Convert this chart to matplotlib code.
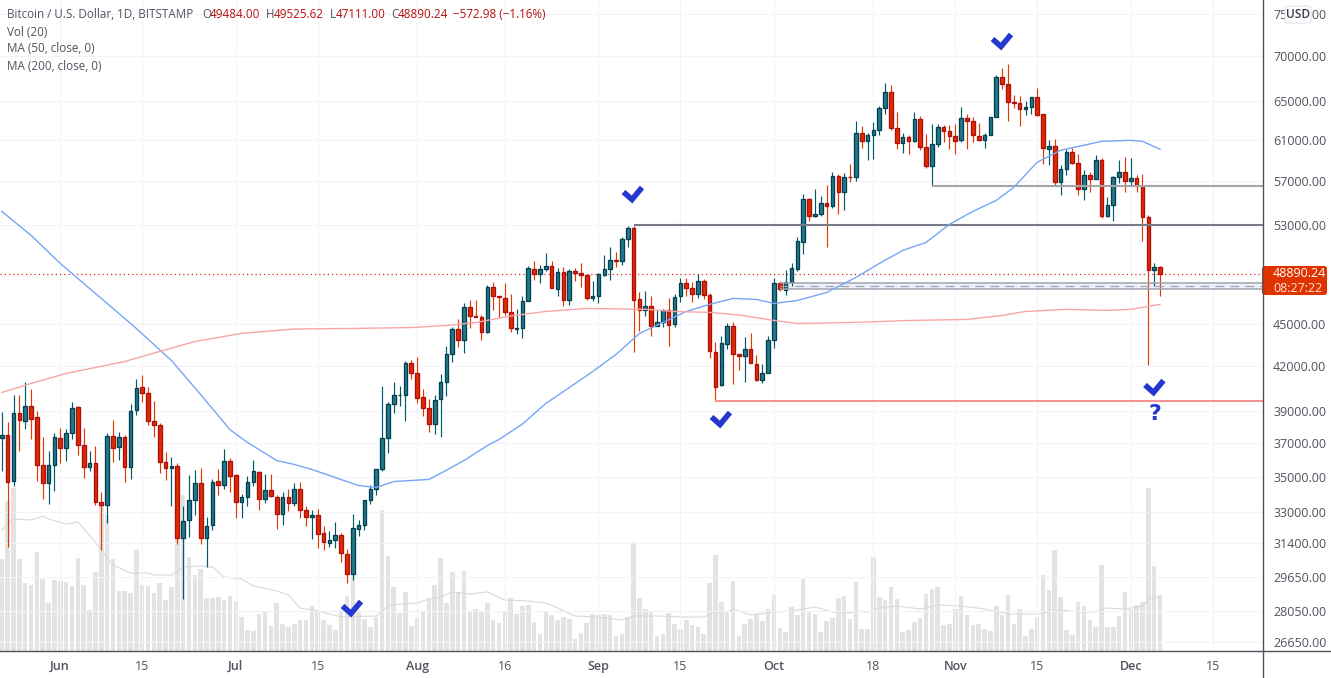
import numpy as np
import matplotlib
matplotlib.use('Agg')
import matplotlib.pyplot as plt
from matplotlib.patches import FancyBboxPatch, Rectangle

plt.rcParams['font.family'] = ['Open Sans', 'DejaVu Sans']

opens = [37290, 37500, 34740, 38880, 38350, 39330, 38620, 35690, 34630, 35670,
         37310, 36680, 37610, 39270, 36890, 35550, 35810, 33580, 33390, 37430,
         36740, 37370, 35550, 39080, 40590, 40190, 38370, 38120, 35860, 35490,
         35630, 31620, 32580, 33690, 34650, 31620, 32330, 34760, 34530, 35920,
         35110, 33550, 33860, 34710, 35280, 33740, 34250, 33860, 32900, 33860,
         33500, 34300, 33140, 32740, 32870, 31910, 31360, 31520, 31800, 30820,
         29800, 32120, 32330, 33690, 34300, 35460, 37310, 39460, 40030, 40060,
         42220, 41530, 39900, 39200, 38150, 39770, 40920, 42830, 44650, 43820,
         46310, 45630, 45550, 44410, 47860, 47150, 47000, 45930, 44650, 44700,
         46770, 49310, 48900, 49310, 49550, 47710, 49060, 46840, 49140, 48980,
         48820, 46970, 47120, 48820, 49310, 50040, 49960, 51810, 52760, 46920,
         46050, 46380, 44880, 45140, 46080, 45030, 47150, 48180, 47780, 47280,
         48340, 47230, 43000, 40690, 43540, 44880, 42860, 42690, 43210, 42150,
         41030, 41500, 43850, 48180, 47590, 48200, 49250, 51550, 55340, 53770,
         53980, 54970, 54660, 57470, 55940, 57380, 57380, 61700, 60890, 61500,
         62000, 64300, 66020, 62210, 60690, 61300, 60890, 63150, 60290, 58430,
         60590, 62310, 61900, 61400, 60990, 63250, 62940, 61380, 60970, 61500,
         63350, 67570, 66890, 64940, 64830, 64150, 64410, 65480, 63660, 60100,
         60390, 56910, 58140, 59800, 58690, 56260, 57560, 57190, 59020, 53770,
         54790, 57380, 57850, 57000, 57290, 56530, 53730, 49190, 49484]
highs = [38920, 38330, 40010, 40010, 40940, 40470, 38970, 37390, 36540, 37580,
         37950, 37890, 39550, 39290, 37950, 36540, 36840, 34100, 37580, 38450,
         37700, 37460, 39420, 41080, 41350, 40540, 39620, 38260, 36480, 36180,
         35820, 33370, 35070, 35360, 35530, 32770, 34840, 35420, 36660, 36120,
         35130, 34040, 35010, 36000, 35300, 35130, 35130, 33980, 34150, 34320,
         34660, 34720, 33370, 33150, 33210, 32290, 31980, 32500, 31920, 31090,
         32930, 32610, 33700, 34550, 35470, 40610, 39550, 40940, 40670, 42380,
         42450, 42660, 40470, 39810, 40010, 41420, 43440, 44820, 45420, 46560,
         46790, 46790, 45720, 47960, 48200, 47170, 48120, 47260, 46110, 47170,
         49500, 49900, 49570, 50560, 49900, 49330, 49410, 49250, 49330, 49740,
         48830, 48280, 48930, 50390, 51060, 50640, 51950, 52870, 52870, 47410,
         47490, 47100, 46030, 46100, 46950, 47320, 48520, 48520, 48200, 48840,
         48440, 47340, 43660, 44110, 45050, 45170, 42870, 44040, 44380, 42800,
         42150, 44160, 48520, 48300, 49230, 49740, 51920, 55790, 55360, 56190,
         55550, 56560, 57850, 57660, 57760, 58560, 62940, 62340, 61700, 62760,
         64510, 66990, 66710, 63800, 61700, 61500, 63800, 63380, 61520, 62550,
         62550, 62450, 62450, 62550, 64330, 63600, 63280, 62660, 61630, 63350,
         67820, 68630, 69080, 65650, 65570, 64980, 65480, 66380, 63670, 60920,
         61020, 58470, 60030, 60130, 59540, 57980, 57790, 59440, 59210, 55460,
         57470, 58950, 59240, 59150, 57500, 57660, 53910, 49810, 49525.62]
lows = [35300, 31160, 34490, 36540, 37890, 37270, 34740, 33710, 33480, 34210,
        35770, 35940, 37210, 36300, 34900, 35300, 33390, 31040, 32450, 35880,
        36000, 34670, 34840, 38770, 39550, 38140, 37390, 35190, 34780, 33370,
        31300, 28630, 31710, 32880, 31300, 30150, 32080, 33930, 34270, 34100,
        32720, 32720, 33370, 34440, 33150, 33540, 33820, 32130, 32340, 33050,
        33370, 32720, 32240, 31600, 31140, 31040, 31190, 31140, 30430, 29350,
        29540, 31760, 32030, 33480, 33930, 35300, 36420, 38860, 39290, 38390,
        41100, 39500, 38710, 37700, 37530, 37350, 39960, 42310, 43320, 42900,
        44700, 45500, 43820, 44330, 46030, 45500, 45720, 44440, 44260, 43970,
        46770, 48360, 48150, 49110, 47730, 47100, 46340, 46430, 48300, 47830,
        46850, 46740, 46560, 48680, 48360, 49440, 49570, 51090, 42970, 44480,
        45600, 44160, 44880, 44770, 43440, 44770, 46710, 47100, 46710, 47000,
        46890, 42540, 39630, 40630, 43180, 40740, 41740, 40880, 42190, 40960,
        40810, 41500, 43300, 47490, 47200, 47880, 49090, 50480, 53300, 53680,
        53770, 51090, 54460, 53950, 54280, 56870, 56970, 60160, 58980, 59080,
        61430, 63620, 62000, 60030, 59640, 59610, 60720, 59930, 58200, 56460,
        60220, 60720, 60030, 59540, 60720, 60030, 60720, 60850, 60160, 61500,
        63350, 66270, 62870, 64220, 62340, 63490, 63590, 63380, 58560, 58470,
        56560, 55640, 57500, 58560, 55640, 55180, 55920, 57190, 53590, 53680,
        53330, 56750, 55920, 56470, 55920, 51580, 42070, 47910, 47111]
closes = [37500, 34680, 38880, 38410, 39330, 38470, 35670, 34630, 35690, 37370,
          36680, 37610, 39200, 36860, 35550, 35810, 33550, 33390, 37430, 36680,
          37370, 35550, 39010, 40520, 40160, 38350, 38090, 35840, 35490, 35630,
          31620, 32540, 33690, 34650, 31620, 32280, 34710, 34530, 35920, 35030,
          33550, 33860, 34710, 35340, 33740, 34250, 33890, 32900, 33860, 33500,
          34300, 33120, 32740, 32870, 31830, 31410, 31540, 31800, 30850, 29800,
          32170, 32330, 33690, 34300, 35460, 37310, 39460, 40060, 40060, 42220,
          41500, 39830, 39180, 38150, 39730, 40920, 42860, 44650, 43820, 46310,
          45600, 45520, 44440, 47860, 47120, 47040, 45900, 44700, 44730, 46770,
          49390, 48870, 49310, 49550, 47750, 49060, 46840, 49110, 48980, 48790,
          46970, 47150, 48900, 49310, 50040, 49920, 51810, 52760, 46840, 46050,
          46380, 44880, 45170, 46080, 44950, 47070, 48180, 47750, 47310, 48340,
          47230, 43040, 40560, 43640, 44880, 42860, 42690, 43210, 42190, 41030,
          41530, 43850, 48180, 47670, 48260, 49330, 51570, 55340, 53770, 53980,
          54970, 54660, 57470, 55940, 57380, 57340, 61700, 60890, 61500, 62000,
          64300, 66020, 62210, 60690, 61300, 60890, 63150, 60290, 58430, 60590,
          62310, 61900, 61400, 60890, 63250, 62940, 61500, 60970, 61500, 63350,
          67570, 66890, 64940, 64830, 64150, 64410, 65480, 63560, 60190, 60390,
          56910, 58140, 59800, 58690, 56260, 57560, 57190, 59020, 53770, 54790,
          57380, 57850, 57000, 57290, 56530, 53680, 49190, 49470, 48890.24]
volumes = [92, 150, 163, 92, 68, 66, 99, 72, 48, 71,
           70, 69, 65, 93, 66, 41, 79, 145, 136, 92,
           60, 60, 58, 101, 66, 65, 58, 68, 51, 64,
           158, 156, 94, 76, 82, 53, 53, 54, 51, 55,
           50, 34, 21, 20, 37, 39, 25, 48, 27, 24,
           27, 31, 31, 45, 40, 31, 26, 21, 41, 55,
           80, 39, 32, 24, 34, 141, 95, 64, 38, 59,
           25, 33, 39, 53, 66, 93, 48, 79, 59, 80,
           39, 42, 40, 48, 31, 28, 39, 53, 37, 45,
           46, 29, 17, 39, 36, 31, 34, 32, 12, 18,
           28, 37, 36, 37, 36, 15, 17, 34, 109, 53,
           42, 39, 15, 17, 38, 27, 22, 31, 26, 24,
           17, 68, 96, 49, 38, 70, 15, 27, 32, 37,
           30, 42, 56, 23, 19, 44, 36, 72, 39, 37,
           19, 30, 33, 53, 55, 32, 69, 22, 22, 94,
           54, 51, 64, 52, 19, 21, 29, 33, 57, 62,
           64, 26, 27, 42, 55, 36, 26, 27, 22, 20,
           45, 36, 56, 27, 42, 15, 22, 34, 76, 61,
           101, 54, 21, 16, 49, 45, 31, 24, 86, 24,
           24, 35, 59, 42, 46, 49, 163, 85, 56]

# moving averages, read at a handful of days along each curve
ma50_days = [0, 5, 10, 17, 23, 29, 34, 39, 42, 47, 50, 53, 57, 61, 64, 67, 70, 73,
             75, 79, 83, 85, 89, 93, 97, 101, 105, 109, 113, 117, 121, 125, 129,
             132, 136, 141, 146, 150, 154, 158, 162, 166, 170, 173, 177, 181,
             185, 188, 193, 195, 198]
ma50_vals = [54190, 52090, 49730, 46950, 44680, 42380, 40070, 37820, 37030, 35940,
             35710, 35420, 34950, 34490, 34380, 34720, 34780, 34840, 35190, 35940,
             36840, 37210, 38170, 39490, 40530, 41620, 42810, 44310, 45120, 45950,
             46490, 46950, 46870, 46560, 46790, 47410, 48600, 49730, 50810, 51490,
             53040, 54190, 55180, 56380, 58760, 59930, 60430, 60820, 60920, 60820,
             60030]
ma200_days = [0, 5, 11, 21, 27, 33, 41, 50, 60, 70, 76, 81, 87, 93, 100, 110, 115,
              121, 126, 132, 136, 145, 155, 165, 171, 175, 182, 189, 193, 198]
ma200_vals = [40210, 40810, 41490, 42310, 43020, 43730, 44320, 44640, 44680, 44750,
              44900, 45120, 45610, 45950, 46180, 46110, 45950, 45880, 45690, 45270,
              45050, 45120, 45270, 45350, 45650, 45950, 46110, 46030, 46110, 46490]
volma_days = [0, 2, 5, 7, 8, 11, 13, 15, 17, 19, 22, 25, 26, 29, 31, 34, 36, 38, 41,
              43, 47, 49, 51, 54, 58, 64, 66, 68, 71, 73, 75, 77, 80, 83, 86, 90,
              93, 95, 98, 102, 106, 108, 112, 116, 120, 122, 124, 125, 128, 132,
              135, 137, 139, 142, 145, 146, 148, 150, 153, 157, 160, 164, 168,
              172, 177, 181, 184, 187, 189, 192, 195, 196, 198]
volma_vals = [121, 132, 131, 135, 132, 127, 129, 116, 101, 86, 78, 78, 76, 76, 84,
              85, 84, 74, 72, 65, 60, 56, 43, 40, 34, 35, 45, 47, 48, 52, 54, 59,
              57, 59, 51, 50, 48, 43, 35, 34, 31, 35, 35, 34, 34, 39, 39, 42, 36,
              39, 40, 42, 44, 39, 38, 40, 39, 43, 45, 42, 46, 45, 42, 37, 37, 41,
              39, 39, 43, 42, 45, 52, 54]

price_ticks = [75000, 70000, 65000, 61000, 57000, 53000, 45000, 42000, 39000, 37000,
               35000, 33000, 31400, 29650, 28050, 26650]
date_ticks = [10, 24, 40, 54, 71, 86, 102, 116, 132, 149, 163, 177, 193, 207]
date_labels = ['Jun', '15', 'Jul', '15', 'Aug', '16', 'Sep', '15', 'Oct', '18', 'Nov', '15', 'Dec', '15']

resistance = 53000
swing_high = 56470
swing_low = 39620
zone_top, zone_mid, zone_bottom = 48160, 47900, 47650
last_price = closes[-1]

W, H = 1331, 678
TEXT = '#50535e'
UP, UP_EDGE = '#26788c', '#00404f'
DOWN, DOWN_EDGE = '#dd2c00', '#b00d0d'
UP_WICK, DOWN_WICK = '#005a66', '#e33900'
CHECK = '#2438cf'

fig = plt.figure(figsize=(W / 100, H / 100), dpi=100)
ax = fig.add_axes([0, 1 - 651 / H, 1263 / W, 651 / H])
ax.set_yscale('log')
ax.set_xlim(-0.31, 215.6)
ax.set_ylim(26260, 76770)

ax.grid(True, color='#f1f3f8', lw=0.8)
ax.set_axisbelow(True)
for s in ax.spines.values():
    s.set_visible(False)

x = np.arange(len(opens))
o, h, l, c = map(np.array, (opens, highs, lows, closes))
up = c >= o

ax.axhline(last_price, color='#cf2a10', lw=0.9, ls=(0, (1, 2.4)), zorder=1)

ax.vlines(x[up], l[up], h[up], color=UP_WICK, lw=0.85, zorder=2)
ax.vlines(x[~up], l[~up], h[~up], color=DOWN_WICK, lw=0.85, zorder=2)
ax.bar(x[up], (c - o)[up], bottom=o[up], width=0.62, color=UP, edgecolor=UP_EDGE, lw=0.95, zorder=3)
ax.bar(x[~up], (o - c)[~up], bottom=c[~up], width=0.62, color=DOWN, edgecolor=DOWN_EDGE, lw=0.95, zorder=3)

# drawn levels
ax.hlines(resistance, 108, 215.6, color='#787b86', lw=1.5, zorder=4)
ax.hlines(swing_high, 159, 215.6, color='#a3a5ab', lw=1.5, zorder=4)
ax.hlines(swing_low, 122, 215.6, color='#f49595', lw=1.5, zorder=4)
ax.add_patch(Rectangle((133, zone_bottom), 82.6, zone_top - zone_bottom, color='#eef1fb', zorder=1.5, lw=0))
ax.hlines([zone_top, zone_bottom], 133, 215.6, color='#a0a3ad', lw=1.1, zorder=4)
ax.hlines(zone_mid, 133, 215.6, color='#a0a3ad', lw=0.9, ls=(0, (7, 5)), zorder=4)

ax.plot(ma50_days, ma50_vals, color='#77a5f8', lw=1.0, zorder=5)
ax.plot(ma200_days, ma200_vals, color='#f7a6a6', lw=1.0, zorder=5)

# volume on its own scale, kept behind the candles
vol = ax.twinx()
vol.set_ylim(0, 651)
vol.set_yticks([])
for s in vol.spines.values():
    s.set_visible(False)
vol.bar(x, volumes, width=0.78, color='#c8c8c8', alpha=0.5, lw=0)
vol.plot(volma_days, volma_vals, color='#d9d9d9', lw=0.8)
ax.set_zorder(vol.get_zorder() + 1)
ax.patch.set_visible(False)

# twinx moves the price axis back to the left, so set the ticks up after it
ax.set_yticks(price_ticks)
ax.set_yticklabels(['%.2f' % p for p in price_ticks])
ax.yaxis.set_minor_locator(matplotlib.ticker.NullLocator())
ax.yaxis.tick_right()
ax.set_xticks(date_ticks)
ax.set_xticklabels(date_labels)
ax.tick_params(axis='y', length=0, pad=7.2, labelsize=9, labelcolor=TEXT)
ax.tick_params(axis='x', length=0, pad=6.5, labelsize=9, labelcolor=TEXT)
for lab, txt in zip(ax.get_xticklabels(), date_labels):
    if not txt.isdigit():
        lab.set_fontweight('semibold')

# everything below is placed in pixels on an overlay
top = fig.add_axes([0, 0, 1, 1])
top.set_zorder(ax.get_zorder() + 1)
top.set_xlim(0, W)
top.set_ylim(H, 0)
top.axis('off')
top.patch.set_visible(False)

top.plot([1263, 1263], [0, H], color=TEXT, lw=1.0)
top.plot([0, W], [651, 651], color=TEXT, lw=1.0)

# check marks
check = np.array([[-8.5, -5], [0, 2.5], [10, -9.5]])
for cx, cy in [(1001, 44), (632, 197), (720, 422), (351, 611), (1153.5, 390)]:
    top.plot(check[:, 0] + cx, check[:, 1] + cy, color=CHECK, lw=4.0, solid_capstyle='butt', solid_joinstyle='miter')
top.text(1155, 414.5, '?', color=CHECK, fontsize=16, fontweight='bold', family='DejaVu Sans', ha='center', va='center')

# last price tag
top.add_patch(FancyBboxPatch((1263, 267), 63, 27, boxstyle='round,pad=0,rounding_size=2', fc='#e03400', ec='#e03400', lw=1.5))
top.text(1273, 273.5, '48890.24', color='white', fontsize=9, va='center')
top.text(1273, 288, '08:27:22', color='#ffe0d6', fontsize=9, va='center')

# currency badge
top.add_patch(FancyBboxPatch((1285, 6), 26, 17, boxstyle='round,pad=0,rounding_size=3', fc='white', ec='#e0e3eb', lw=0.8))
top.text(1298, 14.5, 'USD', color='#3a3d48', fontsize=8.6, fontweight='semibold', ha='center', va='center')

# header
RED = '#b71010'
header = [(7, 'Bitcoin / U.S. Dollar, 1D, BITSTAMP', TEXT), (202, 'O', TEXT), (210, '49484.00', RED),
          (266, 'H', TEXT), (274, '49525.62', RED), (330, 'L', TEXT), (336, '47111.00', RED),
          (391, 'C', TEXT), (398, '48890.24', RED), (453, '\u2212572.98 (\u22121.16%)', RED)]
for hx, txt, col in header:
    top.text(hx, 15, txt, color=col, fontsize=8.4, va='center')
for i, txt in enumerate(['Vol (20)', 'MA (50, close, 0)', 'MA (200, close, 0)']):
    top.text(7, 32 + 17 * i, txt, color=TEXT, fontsize=8.4, va='center')

fig.savefig('out.png', dpi=100)
